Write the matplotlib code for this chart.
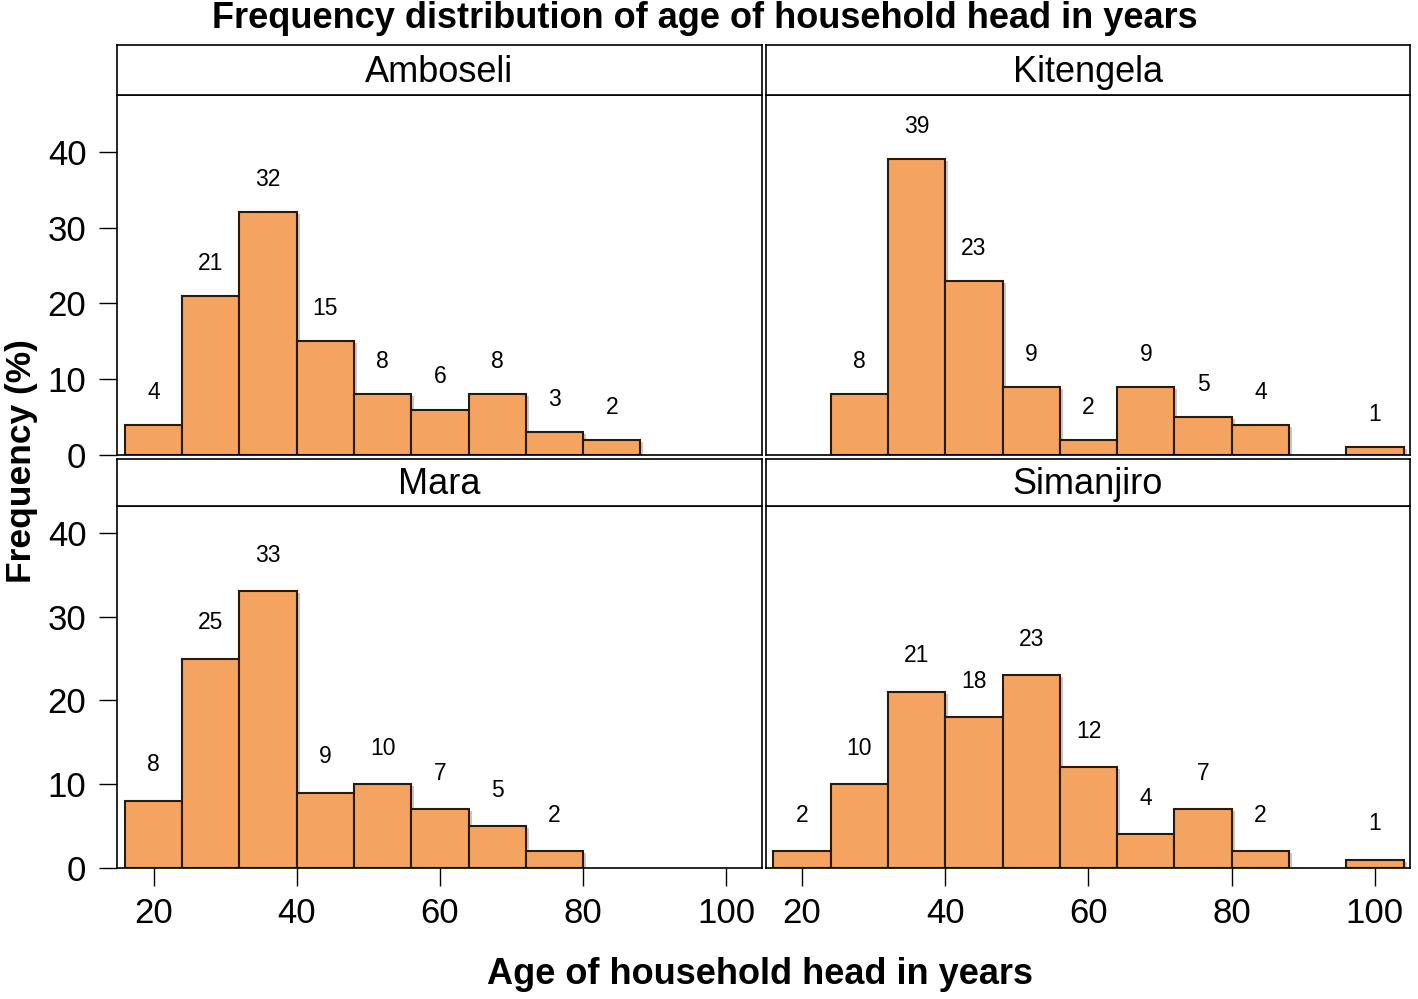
import numpy as np
import matplotlib
matplotlib.use("Agg")
import matplotlib.pyplot as plt

plt.rcParams['font.family'] = ['Liberation Sans', 'DejaVu Sans']

# bin edges of the histogram (age in years)
bin_edges = [16, 24, 32, 40, 48, 56, 64, 72, 80, 88, 96, 104]

sites = ["Amboseli", "Kitengela", "Mara", "Simanjiro"]
amboseli = [4, 21, 32, 15, 8, 6, 8, 3, 2, 0, 0]
kitengela = [0, 8, 39, 23, 9, 2, 9, 5, 4, 0, 1]
mara = [8, 25, 33, 9, 10, 7, 5, 2, 0, 0, 0]
simanjiro = [2, 10, 21, 18, 23, 12, 4, 7, 2, 0, 1]
freqs = [amboseli, kitengela, mara, simanjiro]

x_ticks = [20, 40, 60, 80, 100]
y_ticks = [0, 10, 20, 30, 40]
row_ylim = [47.5, 43.2]

bar_col = "#F4A460"
edge_col = "#2a1a0c"
shadow_col = "#c9c9c9"

W, H = 1418, 999
fig = plt.figure(figsize=(W / 100, H / 100), dpi=100)

def fx(px):
    return px / W

def fy(py):
    return 1 - py / H

left0 = 117
pw = 644.5
gap = 4
rows = [(45, 95, 455), (459, 506, 868)]  # strip top, panel top, panel bottom
xlim = (14.9, 104.9)

for i, site in enumerate(sites):
    r, c = divmod(i, 2)
    s_top, p_top, p_bot = rows[r]
    x0 = left0 + c * (pw + gap)
    ax = fig.add_axes([fx(x0), fy(p_bot), fx(pw), (p_bot - p_top) / H])
    sax = fig.add_axes([fx(x0), fy(p_top), fx(pw), (p_top - s_top) / H])

    edges = np.array(bin_edges, dtype=float)
    lefts = edges[:-1]
    widths = np.diff(edges)
    h = np.array(freqs[i], dtype=float)
    ymax = row_ylim[r]
    px_x = pw / (xlim[1] - xlim[0])
    px_y = (p_bot - p_top) / ymax
    dx = 3 / px_x
    dy = 2 / px_y
    mask = h > 0
    # shadow
    ax.bar(lefts[mask] + dx, np.maximum(h[mask] - dy, 0), width=widths[mask],
           align='edge', color=shadow_col, edgecolor='none', zorder=1)
    ax.bar(lefts[mask], h[mask], width=widths[mask], align='edge',
           color=bar_col, edgecolor=edge_col, linewidth=1.5, zorder=2)
    for l, w, v in zip(lefts[mask], widths[mask], h[mask]):
        ax.text(l + w / 2, v + 4.3, "%d" % v, ha='center', va='center',
                fontsize=16.5, color='black', zorder=3)

    ax.set_xlim(*xlim)
    ax.set_ylim(0, ymax)
    for sp in ax.spines.values():
        sp.set_linewidth(1.2)
    if c == 0:
        ax.set_yticks(y_ticks)
        ax.tick_params(axis='y', direction='out', length=13, width=1,
                       labelsize=25, pad=9)
    else:
        ax.set_yticks([])
    if r == 1:
        ax.set_xticks(x_ticks)
        ax.tick_params(axis='x', direction='out', length=13, width=1,
                       labelsize=25, pad=8)
    else:
        ax.set_xticks([])

    sax.set_xticks([])
    sax.set_yticks([])
    for sp in sax.spines.values():
        sp.set_linewidth(1.2)
    sax.text(0.5, 0.45, site, ha='center', va='center', fontsize=26,
             transform=sax.transAxes)

fig.text(0.497, fy(18), "Frequency distribution of age of household head in years",
         ha='center', va='center', fontsize=26, fontweight='bold')
fig.text(fx(760), fy(975), "Age of household head in years",
         ha='center', va='center', fontsize=26, fontweight='bold')
fig.text(fx(22), fy(461), "Frequency (%)", ha='center', va='center',
         rotation=90, fontsize=25.5, fontweight='bold')

fig.savefig("out.png", dpi=100)
